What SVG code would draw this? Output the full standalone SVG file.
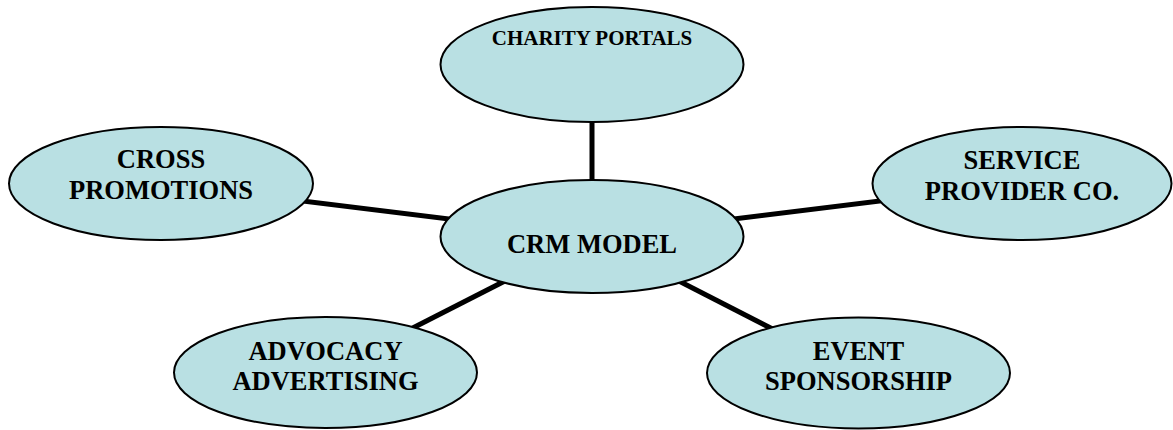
<svg xmlns="http://www.w3.org/2000/svg" width="1173" height="430" viewBox="0 0 1173 430">
<style>
.node ellipse{fill:#b9e0e3;stroke:#000;stroke-width:2}
.node text{font-family:"Liberation Serif","Times New Roman",serif;font-weight:bold;fill:#000;text-anchor:middle;font-size:26.5px}
#connectors line{stroke:#000;stroke-width:5}
</style>
<rect width="1173" height="430" fill="#fff"/>
<g id="connectors">
<line x1="592" y1="64" x2="592" y2="236.5"/>
<line x1="161" y1="183.5" x2="592" y2="236.5"/>
<line x1="1022" y1="183.5" x2="592" y2="236.5"/>
<line x1="325.5" y1="372.5" x2="592" y2="236.5"/>
<line x1="858.5" y1="373" x2="592" y2="236.5"/>
</g>
<g id="charity" class="node">
<ellipse cx="592" cy="64.5" rx="151.5" ry="57.5"/>
<text x="592" y="45" style="font-size:21px">CHARITY PORTALS</text>
</g>
<g id="cross" class="node">
<ellipse cx="161" cy="183.5" rx="152" ry="56.5"/>
<text x="161" y="168">CROSS</text>
<text x="161" y="199">PROMOTIONS</text>
</g>
<g id="crm" class="node">
<ellipse cx="592" cy="236.5" rx="151.5" ry="56.5"/>
<text x="592" y="253">CRM MODEL</text>
</g>
<g id="service" class="node">
<ellipse cx="1022" cy="183.5" rx="149.5" ry="56.5"/>
<text x="1022" y="169">SERVICE</text>
<text x="1022" y="200">PROVIDER CO.</text>
</g>
<g id="advocacy" class="node">
<ellipse cx="325.5" cy="372.5" rx="151.5" ry="55.5"/>
<text x="325.5" y="360">ADVOCACY</text>
<text x="325.5" y="390">ADVERTISING</text>
</g>
<g id="event" class="node">
<ellipse cx="858.5" cy="373" rx="151.5" ry="55.5"/>
<text x="858.5" y="360">EVENT</text>
<text x="858.5" y="390">SPONSORSHIP</text>
</g>
</svg>
